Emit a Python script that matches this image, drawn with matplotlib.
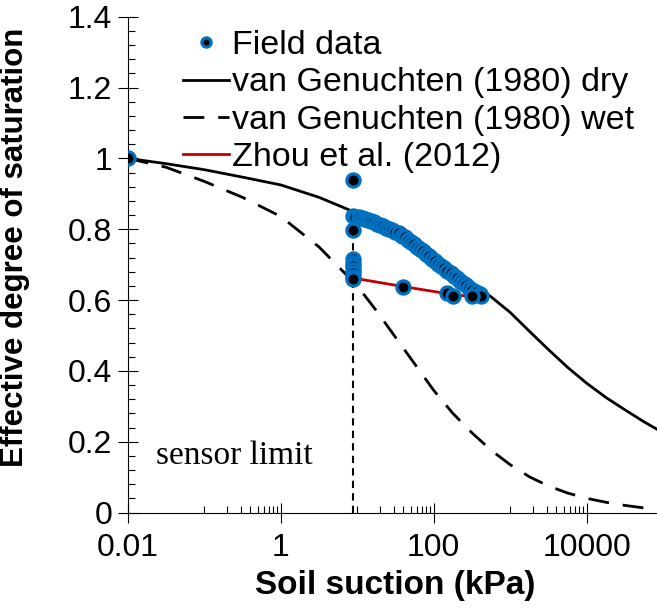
import numpy as np
import matplotlib
matplotlib.use("Agg")
import matplotlib.pyplot as plt
from matplotlib.ticker import FixedLocator, NullFormatter

plt.rcParams["font.family"] = ["Liberation Sans", "DejaVu Sans"]

# van Genuchten (1980) curves
vg_x = [0.01, 0.0316, 0.1, 0.316, 1, 3.16, 10, 17.8, 31.6, 56.2, 100, 178, 316, 562,
        1000, 1778, 3162, 5623, 10000, 17783, 31623, 56234, 100000]
vg_dry = [1.0, 0.985, 0.968, 0.947, 0.925, 0.89, 0.845, 0.819, 0.79, 0.759, 0.725,
          0.689, 0.65, 0.609, 0.565, 0.512, 0.46, 0.41, 0.365, 0.325, 0.29, 0.256, 0.225]
vg_wet = [1.0, 0.975, 0.935, 0.89, 0.836, 0.75, 0.64, 0.57, 0.495, 0.42, 0.345,
          0.28, 0.225, 0.176, 0.135, 0.101, 0.075, 0.055, 0.04, 0.029, 0.02, 0.013, 0.008]

# Zhou et al. (2012)
zhou_x = [8.9, 40, 150, 300]
zhou_y = [0.662, 0.638, 0.618, 0.61]

# field data
field_x = [0.01, 8.8, 8.9, 8.9, 8.9, 8.9, 8.9, 8.9, 8.9, 8.9,
           8.9, 9.5, 10.5, 11.5, 12.6, 13.8, 15.1, 16.6, 18.2, 20,
           21.9, 24, 26.3, 28.8, 31.6, 34.7, 38, 41.7, 45.7, 50.1,
           55, 60.3, 66, 72.4, 79.4, 87, 95.5, 105, 115, 126,
           138, 151, 166, 182, 200, 219, 240, 263, 288, 316,
           355, 398, 420, 40, 148, 180, 314]
field_y = [1.0, 0.939, 0.798, 0.715, 0.705, 0.695, 0.685, 0.675, 0.665, 0.66,
           0.837, 0.835, 0.833, 0.831, 0.828, 0.826, 0.823, 0.82, 0.816, 0.812,
           0.808, 0.804, 0.8, 0.797, 0.793, 0.788, 0.782, 0.777, 0.77, 0.764,
           0.758, 0.751, 0.745, 0.738, 0.731, 0.724, 0.717, 0.71, 0.703, 0.696,
           0.689, 0.682, 0.676, 0.668, 0.661, 0.654, 0.648, 0.641, 0.634, 0.628,
           0.622, 0.617, 0.612, 0.638, 0.619, 0.61, 0.61]

sensor_x = 8.9
sensor_top = 0.835

x_major = [0.01, 1, 100, 10000]
x_labels = ["0.01", "1", "100", "10000"]
x_minor = [k * 0.1 for k in range(1, 10)] + [k * 10 for k in range(1, 10)] + [k * 1000 for k in range(1, 10)]
y_major = [0, 0.2, 0.4, 0.6, 0.8, 1.0, 1.2, 1.4]
y_labels = ["0", "0.2", "0.4", "0.6", "0.8", "1", "1.2", "1.4"]

fig = plt.figure(figsize=(6.57, 6.11), dpi=100)
ax = fig.add_axes([0.1944, 0.1612, 0.815, 0.8115])

ax.plot([sensor_x, sensor_x], [0, sensor_top], color="black", lw=1.5,
        dashes=(3.5, 2.5), zorder=2)
ax.plot(vg_x, vg_dry, color="black", lw=2.0, zorder=3,
        label="van Genuchten (1980) dry")
ax.plot(vg_x, vg_wet, color="black", lw=2.0, dashes=(7.5, 5), zorder=3,
        label="van Genuchten (1980) wet")
ax.plot(zhou_x, zhou_y, color="#C00000", lw=2.0, zorder=4,
        label="Zhou et al. (2012)")
ax.plot(field_x, field_y, ls="none", marker="o", ms=9.5, mfc="black",
        mec="#0070C0", mew=2.3, zorder=5, label="Field data")

ax.set_xscale("log")
ax.set_xlim(0.01, 100000)
ax.set_ylim(0, 1.4)

ax.xaxis.set_major_locator(FixedLocator(x_major))
ax.set_xticklabels(x_labels)
ax.xaxis.set_minor_locator(FixedLocator(x_minor))
ax.xaxis.set_minor_formatter(NullFormatter())
ax.set_yticks(y_major)
ax.set_yticklabels(y_labels)
ax.yaxis.set_minor_locator(FixedLocator(np.arange(0, 1.41, 0.04)))

ax.tick_params(which="major", direction="inout", length=14, width=0.8,
               labelsize=23, pad=4)
ax.tick_params(axis="x", which="major", pad=8)
ax.tick_params(which="minor", direction="in", length=5, width=0.8)

for s in ["top", "right"]:
    ax.spines[s].set_visible(False)
for s in ["left", "bottom"]:
    ax.spines[s].set_linewidth(0.8)

ax.set_xlabel("Soil suction (kPa)", fontsize=24, fontweight="bold", labelpad=5)
ax.set_ylabel("Effective degree of saturation", fontsize=22.5, fontweight="bold")
ax.yaxis.set_label_coords(-0.183, 0.535)

ax.text(0.0235, 0.16, "sensor limit", fontsize=24, va="center",
        family=["Liberation Serif", "DejaVu Serif"])

handles, labels = ax.get_legend_handles_labels()
order = [3, 0, 1, 2]
ax.legend([handles[i] for i in order], [labels[i] for i in order],
          loc="upper left", bbox_to_anchor=(183 / 657, 1 - 30 / 611),
          bbox_transform=fig.transFigure, frameon=False, fontsize=24.5,
          handlelength=1.35, handletextpad=0.1, labelspacing=0.19,
          borderpad=0, borderaxespad=0, markerscale=0.7)

fig.savefig("out.png", dpi=100)
